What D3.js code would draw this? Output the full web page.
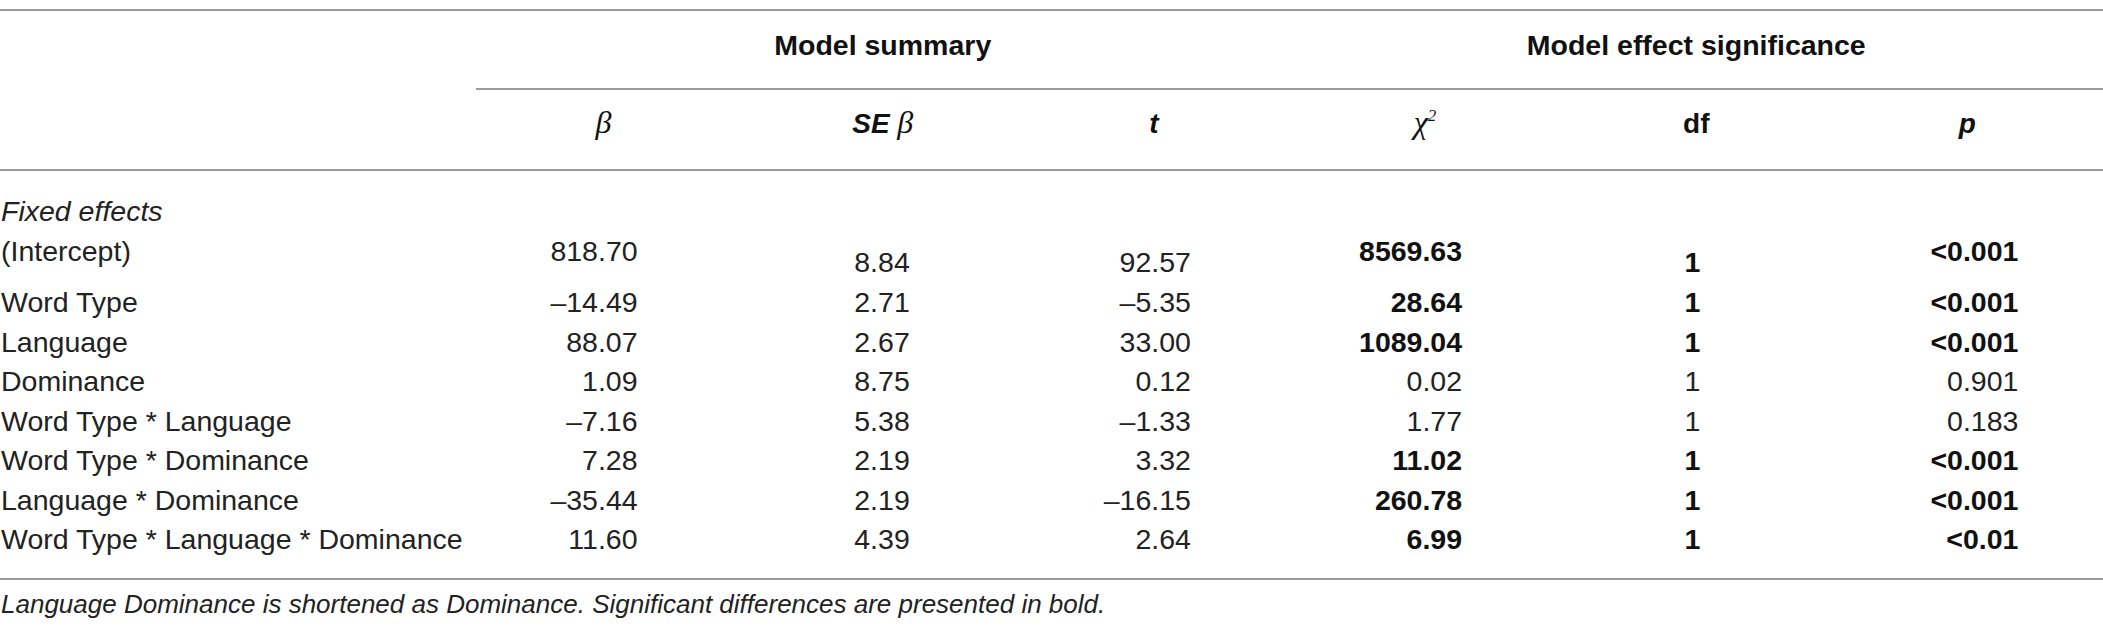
<!DOCTYPE html>
<head>
    <script src="https://d3js.org/d3.v7.min.js"></script>
    <style>
        body { margin: 0; background: white; }
        text { font-family: "Liberation Sans", Arial, sans-serif; fill: #222; }
        .rule { stroke: #9a9a9a; stroke-width: 2; }
        .group { font-size: 28.5px; font-weight: bold; text-anchor: middle; fill: #111; }
        .head { font-size: 28px; font-weight: bold; text-anchor: middle; fill: #111; }
        .serif { font-family: "Liberation Serif", "Times New Roman", serif; font-style: italic; font-weight: normal; font-size: 32px; }
        .cell { font-size: 28.5px; }
        .bold { font-weight: bold; fill: #111; }
        .note { font-size: 26px; font-style: italic; }
    </style>
</head>

<body>
    <svg width="2103" height="634"></svg>
</body>
<script>
    var terms = ["(Intercept)", "Word Type", "Language", "Dominance", "Word Type * Language",
        "Word Type * Dominance", "Language * Dominance", "Word Type * Language * Dominance"]
    var beta = [818.70, -14.49, 88.07, 1.09, -7.16, 7.28, -35.44, 11.60]
    var seBeta = [8.84, 2.71, 2.67, 8.75, 5.38, 2.19, 2.19, 4.39]
    var tValues = [92.57, -5.35, 33.00, 0.12, -1.33, 3.32, -16.15, 2.64]
    var chiSq = [8569.63, 28.64, 1089.04, 0.02, 1.77, 11.02, 260.78, 6.99]
    var dfValues = [1, 1, 1, 1, 1, 1, 1, 1]
    var pValues = ["<0.001", "<0.001", "<0.001", "0.901", "0.183", "<0.001", "<0.001", "<0.01"]
    var significant = [true, true, true, false, false, true, true, true]

    var columns = ["beta", "se", "t", "chi", "df", "p"]
    var groups = [
        { name: "Model summary", from: "beta", to: "t" },
        { name: "Model effect significance", from: "chi", to: "p" }
    ]
    var note = "Language Dominance is shortened as Dominance. Significant differences are presented in bold."

    var fmt = d3.formatLocale({ decimal: ".", thousands: ",", grouping: [3], currency: ["", ""], minus: "\u2013" }).format(".2f")

    var svg = d3.select("svg")
    var W = 2103

    // layout
    var x = d3.scaleBand().domain(columns).range([476, W])
    // right edge of the numbers, relative to the column centre
    var numOffset = { beta: 26, se: 27, t: 37, chi: 37, df: 4, p: 51 }
    var y = d3.scalePoint().domain(terms.slice(1)).range([312, 549])
    var yIntercept = 261
    var yFixed = 221
    // in the intercept row these columns sit lower
    var lowered = { se: 11, t: 11, df: 11 }

    function cx(c) { return x(c) + x.bandwidth() / 2 }

    // rules
    var rules = [
        { x1: 0, y: 10 },
        { x1: x("beta"), y: 89 },
        { x1: 0, y: 170 },
        { x1: 0, y: 579 }
    ]
    svg.selectAll("line.rule").data(rules).enter().append("line")
        .attr("class", "rule")
        .attr("x1", d => d.x1).attr("x2", W)
        .attr("y1", d => d.y).attr("y2", d => d.y)

    // group headers
    svg.selectAll("text.group").data(groups).enter().append("text")
        .attr("class", "group")
        .attr("x", d => (x(d.from) + x(d.to) + x.bandwidth()) / 2)
        .attr("y", 55)
        .text(d => d.name)

    // column headers
    var hy = 133
    var hb = svg.append("text").attr("class", "head").attr("x", cx("beta") - 8).attr("y", hy)
    hb.append("tspan").attr("class", "serif").text("\u03b2")
    var hse = svg.append("text").attr("class", "head").attr("x", cx("se")).attr("y", hy)
    hse.append("tspan").attr("font-style", "italic").text("SE ")
    hse.append("tspan").attr("class", "serif").text("\u03b2")
    svg.append("text").attr("class", "head").attr("x", cx("t")).attr("y", hy)
        .attr("font-style", "italic").text("t")
    var hc = svg.append("text").attr("class", "head").attr("x", cx("chi")).attr("y", hy)
    hc.append("tspan").attr("class", "serif").text("\u03c7")
    hc.append("tspan").attr("class", "serif").attr("font-style", "normal")
        .style("font-size", "17px").attr("dy", -12).text("2")
    svg.append("text").attr("class", "head").attr("x", cx("df")).attr("y", hy).text("df")
    svg.append("text").attr("class", "head").attr("x", cx("p")).attr("y", hy)
        .attr("font-style", "italic").text("p")

    // section label
    svg.append("text").attr("class", "cell").attr("x", 1).attr("y", yFixed)
        .attr("font-style", "italic").text("Fixed effects")

    var rows = terms.map((term, i) => ({
        term: term,
        i: i,
        y: i === 0 ? yIntercept : y(term),
        cells: [
            { col: "beta", text: fmt(beta[i]), bold: false },
            { col: "se", text: fmt(seBeta[i]), bold: false },
            { col: "t", text: fmt(tValues[i]), bold: false },
            { col: "chi", text: fmt(chiSq[i]), bold: significant[i] },
            { col: "df", text: String(dfValues[i]), bold: significant[i] },
            { col: "p", text: pValues[i], bold: significant[i] }
        ]
    }))

    var g = svg.selectAll("g.row").data(rows).enter().append("g")
        .attr("class", "row")
        .attr("transform", d => "translate(0," + d.y + ")")

    g.append("text").attr("class", "cell").attr("x", 1).text(d => d.term)

    g.selectAll("text.num").data(d => d.cells.map(c => Object.assign({ row: d.i }, c)))
        .enter().append("text")
        .attr("class", d => "cell num" + (d.bold ? " bold" : ""))
        .attr("text-anchor", "end")
        .attr("x", d => cx(d.col) + numOffset[d.col])
        .attr("y", d => d.row === 0 ? (lowered[d.col] || 0) : 0)
        .text(d => d.text)

    svg.append("text").attr("class", "note").attr("x", 1).attr("y", 613).text(note)
</script>
